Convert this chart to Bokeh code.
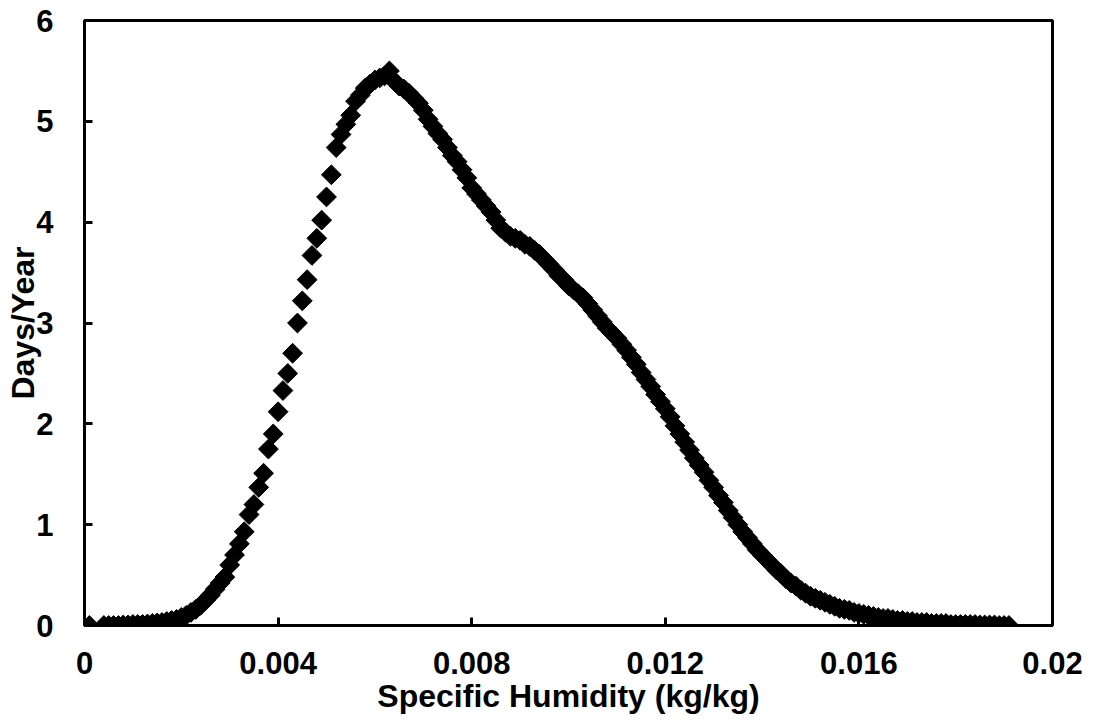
import math
from bokeh.plotting import figure
from bokeh.models import FixedTicker, Range1d, ColumnDataSource
from bokeh.embed import file_html
from bokeh.resources import INLINE

# Specific humidity bins, in units of 0.0001 kg/kg
hum_bin = [1, 4, 5, 6, 7, 8, 9, 10, 11, 12, 13, 14, 15, 16, 17, 18, 19, 20,
           21, 22, 23, 24, 25, 26, 27, 28, 29, 30, 31, 32, 33, 34, 35, 36, 37, 38, 39, 40,
           41, 42, 43, 44, 45, 46, 47, 48, 49, 50, 51, 52, 53, 54, 55, 56, 57, 58, 59, 60,
           61, 62, 63, 64, 65, 66, 67, 68, 69, 70, 71, 72, 73, 74, 75, 76, 77, 78, 79, 80,
           81, 82, 83, 84, 85, 86, 87, 88, 89, 90, 91, 92, 93, 94, 95, 96, 97, 98, 99, 100,
           101, 102, 103, 104, 105, 106, 107, 108, 109, 110, 111, 112, 113, 114, 115, 116, 117, 118, 119, 120,
           121, 122, 123, 124, 125, 126, 127, 128, 129, 130, 131, 132, 133, 134, 135, 136, 137, 138, 139, 140,
           141, 142, 143, 144, 145, 146, 147, 148, 149, 150, 151, 152, 153, 154, 155, 156, 157, 158, 159, 160,
           161, 162, 163, 164, 165, 166, 167, 168, 169, 170, 171, 172, 173, 174, 175, 176, 177, 178, 179, 180,
           181, 182, 183, 184, 185, 186, 187, 188, 189, 190, 191]

days_per_year = [0.00, 0.00, 0.00, 0.00, 0.00, 0.005, 0.005, 0.01, 0.01, 0.01, 0.015, 0.02, 0.025, 0.03, 0.04, 0.05, 0.06, 0.08,
                 0.10, 0.13, 0.16, 0.20, 0.25, 0.30, 0.36, 0.42, 0.48, 0.60, 0.70, 0.81, 0.93, 1.10, 1.20, 1.37, 1.51, 1.75, 1.90, 2.12,
                 2.33, 2.50, 2.70, 3.00, 3.22, 3.43, 3.67, 3.84, 4.02, 4.25, 4.47, 4.74, 4.87, 4.97, 5.06, 5.20, 5.26, 5.33, 5.37, 5.41,
                 5.43, 5.45, 5.50, 5.40, 5.35, 5.32, 5.28, 5.23, 5.18, 5.11, 5.02, 4.95, 4.88, 4.82, 4.74, 4.66, 4.60, 4.52, 4.44, 4.34,
                 4.28, 4.22, 4.16, 4.10, 4.02, 3.94, 3.90, 3.86, 3.84, 3.82, 3.78, 3.76, 3.72, 3.68, 3.63, 3.58, 3.53, 3.47, 3.43, 3.37,
                 3.33, 3.29, 3.25, 3.19, 3.13, 3.07, 3.01, 2.95, 2.90, 2.85, 2.79, 2.73, 2.66, 2.59, 2.51, 2.44, 2.37, 2.29, 2.22, 2.15,
                 2.07, 1.98, 1.90, 1.82, 1.74, 1.66, 1.59, 1.52, 1.44, 1.37, 1.29, 1.22, 1.14, 1.07, 1.00, 0.93, 0.87, 0.81, 0.75, 0.70,
                 0.65, 0.60, 0.55, 0.51, 0.46, 0.42, 0.39, 0.35, 0.32, 0.29, 0.27, 0.25, 0.23, 0.21, 0.19, 0.17, 0.16, 0.15, 0.13, 0.12,
                 0.11, 0.10, 0.09, 0.08, 0.07, 0.07, 0.06, 0.05, 0.05, 0.04, 0.04, 0.03, 0.03, 0.03, 0.02, 0.02, 0.02, 0.02, 0.01, 0.01,
                 0.01, 0.01, 0.01, 0.01, 0.005, 0.005, 0.005, 0.005, 0.0, 0.0, 0.0]

x_ticks = [0, 0.004, 0.008, 0.012, 0.016, 0.02]
x_tick_labels = ["0", "0.004", "0.008", "0.012", "0.016", "0.02"]
y_ticks = [0, 1, 2, 3, 4, 5, 6]

humidity = [b * 1e-4 for b in hum_bin]
source = ColumnDataSource(data=dict(x=humidity, y=days_per_year))

FONT = "Liberation Sans"
TICK_SIZE = "31px"
TITLE_SIZE = "32px"

p = figure(width=1090, height=721,
           x_range=Range1d(0, 0.02), y_range=Range1d(0, 6),
           output_backend="svg", toolbar_location=None,
           min_border_left=84, min_border_right=38,
           min_border_top=20, min_border_bottom=96)

p.scatter("x", "y", source=source, marker="square", size=14,
          angle=math.pi / 4, fill_color="black", line_color="black")

p.grid.visible = False
p.outline_line_color = "black"
p.outline_line_width = 3
p.background_fill_color = "white"
p.border_fill_color = "white"

p.xaxis.ticker = FixedTicker(ticks=x_ticks)
p.xaxis.major_label_overrides = {t: l for t, l in zip(x_ticks, x_tick_labels)}
p.yaxis.ticker = FixedTicker(ticks=y_ticks)

for ax in (p.xaxis, p.yaxis):
    ax.axis_line_color = "black"
    ax.axis_line_width = 3
    ax.major_tick_in = 8
    ax.major_tick_out = 0
    ax.major_tick_line_width = 3
    ax.major_tick_line_color = "black"
    ax.minor_tick_line_color = None
    ax.major_label_text_font = FONT
    ax.major_label_text_font_style = "bold"
    ax.major_label_text_font_size = TICK_SIZE
    ax.major_label_text_color = "black"
    ax.axis_label_text_font = FONT
    ax.axis_label_text_font_style = "bold"
    ax.axis_label_text_font_size = TITLE_SIZE
    ax.axis_label_text_color = "black"

p.xaxis.axis_label = "Specific Humidity (kg/kg)"
p.yaxis.axis_label = "Days/Year"
p.xaxis.major_label_standoff = 26
p.xaxis.axis_label_standoff = 1
p.yaxis.major_label_standoff = 31
p.yaxis.axis_label_standoff = -8

open("out.html", "w").write(file_html(p, INLINE))
